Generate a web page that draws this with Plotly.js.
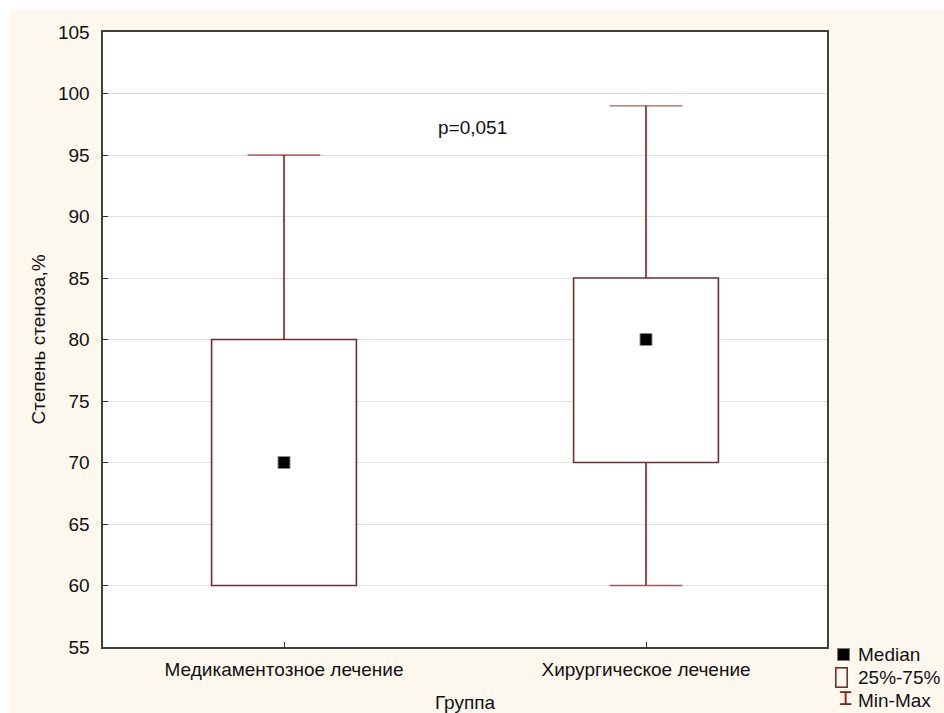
<!DOCTYPE html>
<html><head><meta charset="utf-8">
<script src="https://cdn.plot.ly/plotly-3.0.1.min.js"></script>
<style>html,body{margin:0;padding:0;background:#ffffff;} #chart{position:absolute;left:10px;top:10px;width:934px;height:703px;}</style>
</head><body><div id="chart"></div>
<script>
const categories = ["Медикаментозное лечение", "Хирургическое лечение"];
const medians = [70, 80];
const q1 = [60, 70];
const q3 = [80, 85];
const mins = [60, 60];
const maxs = [95, 99];
const yTicks = [55, 60, 65, 70, 75, 80, 85, 90, 95, 100, 105];
const legendLabels = ["Median", "25%-75%", "Min-Max"];
const pValueText = "p=0,051";
const xTitle = "Группа";
const yTitle = "Степень стеноза,%";

const FONT = "Liberation Sans, Arial, sans-serif";
const FS = 19;
const BOXC = "#6e2f2f";
const WHC = "#8b1a1a";
const CAP = 52;

const wx = [], wy = [], ws = [];
categories.forEach((c, i) => {
  wx.push(c, c, null, c, c, null);
  wy.push(q3[i], maxs[i], null, q1[i], mins[i], null);
  ws.push(0, maxs[i] > q3[i] ? CAP : 0, 0, 0, mins[i] < q1[i] ? CAP : 0, 0);
});

const traces = [
  {type: "bar", x: categories, y: q3.map((v, i) => v - q1[i]), base: q1, width: 0.4,
   marker: {color: "#ffffff", line: {color: BOXC, width: 1.6}}, showlegend: false, hoverinfo: "skip"},
  {type: "scatter", mode: "lines+markers", x: wx, y: wy, connectgaps: false,
   line: {color: WHC, width: 1.6},
   marker: {symbol: "line-ew-open", size: ws, color: WHC, line: {color: WHC, width: 1.3}},
   showlegend: false, hoverinfo: "skip"},
  {type: "scatter", mode: "markers", x: categories, y: medians,
   marker: {symbol: "square", size: 12, color: "#000000", line: {color: "#8a8a8a", width: 1}},
   showlegend: false, hoverinfo: "skip"}
];

const legTX = 1.040;
const legY = [-0.0114, -0.0496, -0.0862];
const annotations = [
  {xref: "x", yref: "y", x: 0.52, y: 97.2, text: pValueText, showarrow: false,
   font: {family: FONT, size: FS, color: "#111"}, xanchor: "center", yanchor: "middle"},
  {xref: "paper", yref: "paper", x: 1.0221, y: legY[0], text: " ", showarrow: false,
   font: {size: 6}, width: 11, height: 11, borderpad: 0, bgcolor: "#000000",
   bordercolor: "#777", borderwidth: 1, xanchor: "center", yanchor: "middle"},
  {xref: "paper", yref: "paper", x: 1.0200, y: legY[1], text: " ", showarrow: false,
   font: {size: 6}, width: 10, height: 18, borderpad: 0, bgcolor: "rgba(0,0,0,0)",
   bordercolor: BOXC, borderwidth: 1.6, xanchor: "center", yanchor: "middle"},
  {xref: "paper", yref: "paper", x: 1.0249, y: -0.0825, text: "⌶", showarrow: false,
   font: {family: "DejaVu Sans Mono", size: 22, color: WHC}, xanchor: "center", yanchor: "middle"}
];
legendLabels.forEach((t, i) => annotations.push({xref: "paper", yref: "paper", x: legTX, y: legY[i], text: t,
  showarrow: false, font: {family: FONT, size: FS, color: "#111"}, xanchor: "left", yanchor: "middle"}));

const axisCommon = {showline: true, mirror: true, linecolor: "#404040", linewidth: 1.6,
  ticks: "inside", ticklen: 5, tickcolor: "#333", tickwidth: 1,
  tickfont: {family: FONT, size: FS, color: "#111"}, zeroline: false};

const layout = {
  width: 934, height: 703,
  paper_bgcolor: "#fdf8ee", plot_bgcolor: "#ffffff",
  margin: {l: 93, r: 117, t: 22, b: 66},
  showlegend: false,
  xaxis: Object.assign({}, axisCommon, {type: "category", range: [-0.5, 1.5], showgrid: false,
    ticklabelstandoff: 5, automargin: false,
    title: {text: xTitle, font: {family: FONT, size: FS, color: "#111"}, standoff: 20}}),
  yaxis: Object.assign({}, axisCommon, {range: [55, 105], tickvals: yTicks, showgrid: true,
    gridcolor: "#e0e0e0", gridwidth: 1, ticklabelstandoff: 8, automargin: false,
    title: {text: yTitle, font: {family: FONT, size: FS, color: "#111"}, standoff: 7}}),
  annotations: annotations
};

Plotly.newPlot("chart", traces, layout, {displayModeBar: false, staticPlot: true});
</script></body></html>
